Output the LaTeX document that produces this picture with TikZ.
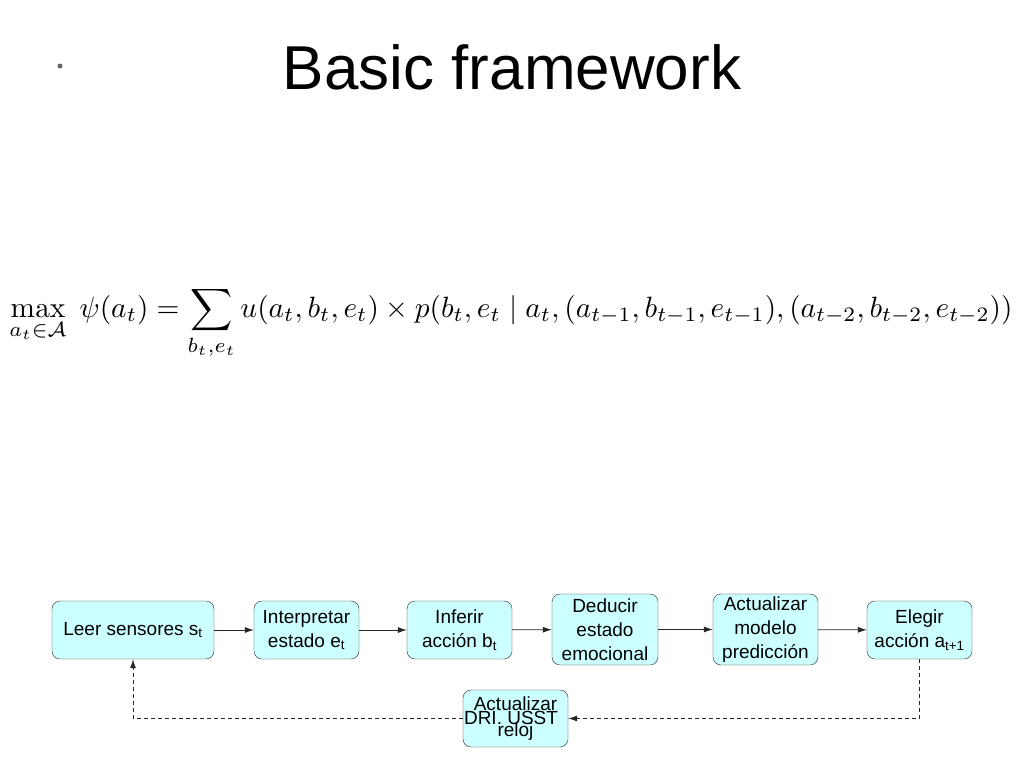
\documentclass[tikz,border=0pt]{standalone}
\usepackage[no-math]{fontspec}
\setmainfont{Liberation Sans}
\usepackage{amsmath}
\usepackage{graphicx}
\usetikzlibrary{arrows.meta}

\definecolor{boxfill}{HTML}{CCFFFF}

\begin{document}
\begin{tikzpicture}[x=1pt, y=-1pt,
    stage/.style={draw=black!85, fill=boxfill, rounded corners=8pt, align=center,
      inner sep=1pt, font=\fontsize{19}{24}\selectfont},
    flow/.style={-{Latex[length=9pt,width=6pt]}, line width=0.8pt, black!85},
    back/.style={flow, dash pattern=on 4pt off 3pt}]
  \useasboundingbox (0, 0) rectangle (1024, 768);

  \fill[black!60] (60, 66) circle (2.5);
  \node (title) at (512, 67) {\fontsize{62}{70}\selectfont Basic framework};

  \node (psi) at (511, 323) {\resizebox{1003pt}{!}{$\displaystyle
    \max_{a_t\in\mathcal{A}}\ \psi(a_t) = \sum_{b_t,e_t} u(a_t,b_t,e_t)\times
    p(b_t,e_t\mid a_t,(a_{t-1},b_{t-1},e_{t-1}),(a_{t-2},b_{t-2},e_{t-2}))$}};

  \node[stage, minimum width=162pt, minimum height=58pt] (leer) at (133, 630)
    {Leer sensores s\textsubscript{t}};
  \node[stage, minimum width=105pt, minimum height=58pt] (interp) at (306.5, 630)
    {Interpretar\\estado e\textsubscript{t}};
  \node[stage, minimum width=105pt, minimum height=58pt] (inferir) at (459.5, 630)
    {Inferir\\acción b\textsubscript{t}};
  \node[stage, minimum width=106pt, minimum height=71pt] (deducir) at (605, 629.5)
    {Deducir\\estado\\emocional};
  \node[stage, minimum width=105pt, minimum height=71pt] (modelo) at (765.5, 629.5)
    {Actualizar\\modelo\\predicción};
  \node[stage, minimum width=105pt, minimum height=58pt] (elegir) at (919.5, 630)
    {Elegir\\acción a\textsubscript{t+1}};
  \node[stage, minimum width=105pt, minimum height=57pt, font=\fontsize{19}{26}\selectfont] (reloj) at (515.5, 718.5)
    {Actualizar\\reloj};
  \node[font=\fontsize{19}{24}\selectfont] (dri) at (511, 718) {DRI. USST};

  \draw[flow] (leer) -- (interp);
  \draw[flow] (interp) -- (inferir);
  \draw[flow] (inferir) -- (deducir);
  \draw[flow] (deducir) -- (modelo);
  \draw[flow] (modelo) -- (elegir);

  \draw[back] (elegir.south) |- (reloj.east);
  \draw[back] (reloj.west) -| (leer.south);
\end{tikzpicture}
\end{document}
